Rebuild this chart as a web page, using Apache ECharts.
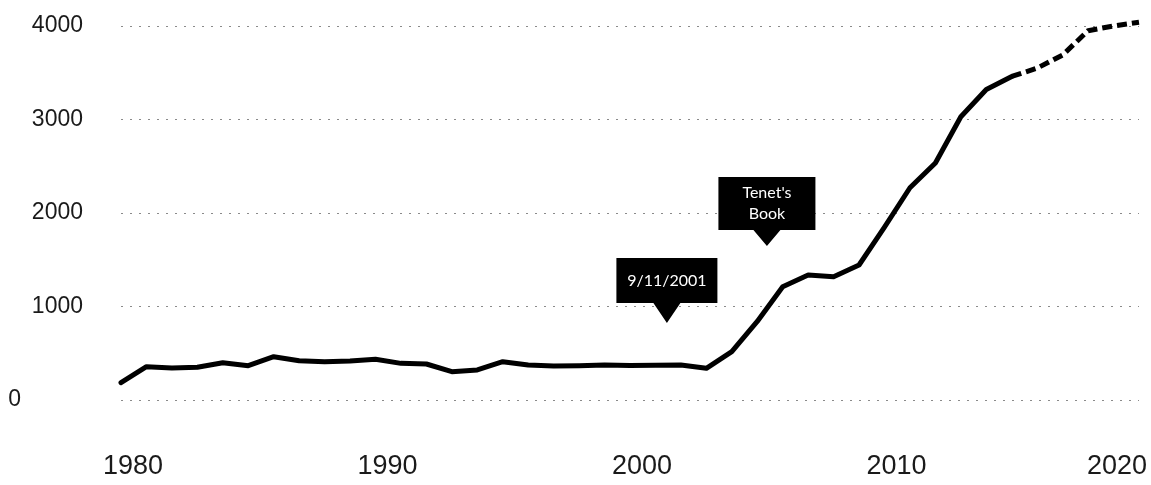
<!DOCTYPE html>
<html>
<head>
<meta charset="utf-8">
<script src="https://cdn.jsdelivr.net/npm/echarts@6/dist/echarts.min.js"></script>
<style>
  html, body { margin: 0; padding: 0; background: #fff; }
  #chart { width: 1151px; height: 485px; }
</style>
</head>
<body>
<div id="chart"></div>
<script>
// ---- data ----
const years = [1980,1981,1982,1983,1984,1985,1986,1987,1988,1989,
               1990,1991,1992,1993,1994,1995,1996,1997,1998,1999,
               2000,2001,2002,2003,2004,2005,2006,2007,2008,2009,
               2010,2011,2012,2013,2014,2015,2016,2017,2018,2019,2020];
const values = [185,356,342,350,399,367,463,420,410,417,
                435,392,385,303,321,410,374,364,367,375,
                370,372,375,339,517,840,1212,1337,1319,1444,
                1850,2270,2535,3030,3320,3460,3550,3690,3950,4000,4040];
const dashedFromYear = 2015;           // line is dashed from this year on
const yTicks = [0, 1000, 2000, 3000, 4000];
const xTicks = [1980, 1990, 2000, 2010, 2020];
const annotations = [
  { text: '9/11/2001', year: 2001.45, value: 824 },
  { text: "Tenet's\nBook", year: 2005.38, value: 1647 }
];

// ---- build series data ----
const solidData = [], dashedData = [];
years.forEach((y, i) => {
  if (y <= dashedFromYear) solidData.push([y, values[i]]);
  if (y >= dashedFromYear) dashedData.push([y, values[i]]);
});

const calloutStyles = [
  { path: 'path://M0,0 L101,0 L101,45 L64,45 L50.5,65 L37,45 L0,45 Z', size: [101, 65], off: -10, lh: 20 },
  { path: 'path://M0,0 L97,0 L97,53 L62,53 L48.5,69 L35,53 L0,53 Z', size: [97, 69], off: -8, lh: 21 }
];

const FONT = '"Liberation Sans", Arial, sans-serif';
const chart = echarts.init(document.getElementById('chart'), null, { renderer: 'canvas' });
chart.setOption({
  animation: false,
  backgroundColor: '#ffffff',
  grid: { left: 121, right: 12, top: 26, bottom: 85, containLabel: false },
  xAxis: {
    type: 'value',
    min: xTicks[0], max: xTicks[xTicks.length - 1], interval: 10,
    axisLine: { show: false }, axisTick: { show: false }, splitLine: { show: false },
    axisLabel: {
      margin: 53,
      formatter: v => (v === xTicks[xTicks.length - 1] ? '{e|' + v + '}' : '{a|' + v + '}'),
      rich: {
        a: { fontFamily: FONT, fontSize: 27, color: '#1a1a1a', padding: [0, 0, 0, 24] },
        e: { fontFamily: FONT, fontSize: 27, color: '#1a1a1a', padding: [0, 44, 0, 0] }
      }
    }
  },
  yAxis: {
    type: 'value',
    min: yTicks[0], max: yTicks[yTicks.length - 1], interval: 1000,
    axisLine: { show: false }, axisTick: { show: false },
    splitLine: { show: true, lineStyle: { color: '#8a8a8a', width: 1, type: [2, 7] } },
    axisLabel: {
      margin: 38,
      formatter: v => (v === 0 ? '{z|0}' : '{n|' + v + '}'),
      rich: {
        n: { fontFamily: FONT, fontSize: 23, color: '#1a1a1a' },
        z: { fontFamily: FONT, fontSize: 23, color: '#1a1a1a', padding: [0, 62, 0, 0] }
      }
    }
  },
  series: [
    {
      type: 'line', data: solidData, symbol: 'none', clip: false, z: 3,
      lineStyle: { color: '#000', width: 5, cap: 'round', join: 'round' },
      markPoint: {
        silent: true,
        data: annotations.map((a, i) => ({
          coord: [a.year, a.value],
          symbol: calloutStyles[i].path,
          symbolSize: calloutStyles[i].size,
          symbolOffset: [0, '-50%'],
          itemStyle: { color: '#000' },
          label: {
            show: true, position: 'inside', offset: [0, calloutStyles[i].off],
            formatter: a.text, color: '#fff', fontSize: 16, lineHeight: calloutStyles[i].lh,
            fontFamily: 'Lato, "Open Sans", sans-serif', align: 'center'
          }
        }))
      }
    },
    {
      type: 'line', data: dashedData, symbol: 'none', clip: false, z: 3,
      lineStyle: { color: '#000', width: 5, type: [10, 5], join: 'round' }
    }
  ]
});
</script>
</body>
</html>
